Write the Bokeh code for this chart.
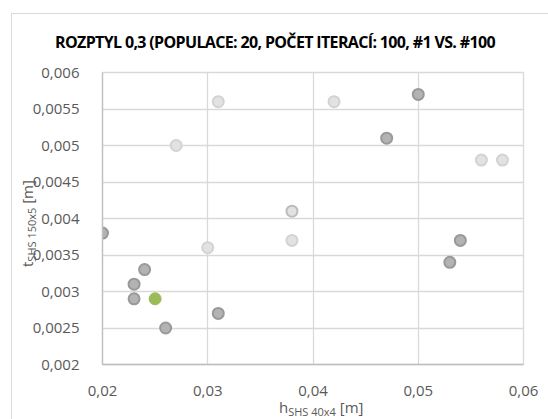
from bokeh.plotting import figure
from bokeh.models import FixedTicker, Range1d, Div
from bokeh.layouts import column
from bokeh.embed import file_html
from bokeh.resources import INLINE

# ---- data ----
title_text = "ROZPTYL 0,3 (POPULACE: 20, POČET ITERACÍ: 100, #1 VS. #100"
x_label = ("h", "SHS 40x4", " [m]")
y_label = ("t", "SHS 150x5", " [m]")

# population #1 (light grey)
first_h = [0.031, 0.042, 0.027, 0.056, 0.058, 0.038, 0.030]
first_t = [0.0056, 0.0056, 0.0050, 0.0048, 0.0048, 0.0037, 0.0036]

# overlapping point (light fill, darker border)
mid_h = [0.038]
mid_t = [0.0041]

# population #100 (dark grey)
last_h = [0.020, 0.024, 0.023, 0.023, 0.026, 0.031, 0.050, 0.047, 0.054, 0.053]
last_t = [0.0038, 0.0033, 0.0031, 0.0029, 0.0025, 0.0027, 0.0057, 0.0051, 0.0037, 0.0034]

# best solution (green)
best_h = [0.025]
best_t = [0.0029]

x_ticks = [0.02, 0.03, 0.04, 0.05, 0.06]
x_tick_labels = ["0,02", "0,03", "0,04", "0,05", "0,06"]
y_ticks = [0.002, 0.0025, 0.003, 0.0035, 0.004, 0.0045, 0.005, 0.0055, 0.006]
y_tick_labels = ["0,002", "0,0025", "0,003", "0,0035", "0,004", "0,0045", "0,005", "0,0055", "0,006"]

FONT = "Open Sans"
TICK_COLOR = "#595959"
GRID = "#d9d9d9"

p = figure(width=548, height=419, output_backend="svg", toolbar_location=None,
           x_range=Range1d(0.02, 0.06), y_range=Range1d(0.002, 0.006),
           min_border_left=102, min_border_right=25, min_border_top=72, min_border_bottom=55)
p.outline_line_color = GRID
p.outline_line_width = 1.3
p.background_fill_color = "white"
p.border_fill_color = None

for ax, ticks, labels in ((p.xaxis[0], x_ticks, x_tick_labels), (p.yaxis[0], y_ticks, y_tick_labels)):
    ax.ticker = FixedTicker(ticks=ticks)
    ax.major_label_overrides = {t: l for t, l in zip(ticks, labels)}
    ax.major_tick_line_color = None
    ax.minor_tick_line_color = None
    ax.axis_line_color = "#bfbfbf"
    ax.axis_line_width = 1.3
    ax.major_label_text_font = FONT
    ax.major_label_text_font_size = "15px"
    ax.major_label_text_color = TICK_COLOR
p.yaxis.major_label_standoff = 17
p.xaxis.major_label_standoff = 15

p.xgrid.ticker = FixedTicker(ticks=x_ticks)
p.ygrid.ticker = FixedTicker(ticks=y_ticks)
p.grid.grid_line_color = GRID
p.grid.grid_line_width = 1.3

# ---- points ----
p.scatter(first_h, first_t, size=11, fill_color="#e2e2e2", line_color="#d3d3d3", line_width=2)
p.scatter(mid_h, mid_t, size=11, fill_color="#e2e2e2", line_color="#bcbcbc", line_width=2)
p.scatter(last_h, last_t, size=11, fill_color="#b3b3b3", line_color="#999999", line_width=2)
p.scatter(best_h, best_t, size=12, fill_color="#9bbb59", line_color="#9bbb59", line_width=1)

# ---- texts as HTML overlay (title and axis titles with subscripts) ----
base = "position:absolute; white-space:nowrap; font-family:'Open Sans'; line-height:1;"
sub = "font-size:11px; line-height:0; vertical-align:-3px;"
html = (
    f'<div style="position:absolute; left:6px; top:8px; width:600px; height:500px; '
    f'border-left:1px solid #d9d9d9; border-top:1px solid #d9d9d9;"></div>'
    f'<div style="{base} left:0px; top:29px; width:540px; text-align:center; '
    f'font-size:16px; font-weight:bold; letter-spacing:-0.65px; color:#000;">{title_text}</div>'
    f'<div style="{base} left:274px; top:395px; font-size:15px; color:{TICK_COLOR};">'
    f'{x_label[0]}<span style="{sub}">{x_label[1]}</span>{x_label[2]}</div>'
    f'<div style="{base} left:15px; top:262px; font-size:15px; color:{TICK_COLOR}; '
    f'transform-origin:0 0; transform:rotate(-90deg);">'
    f'{y_label[0]}<span style="{sub}">{y_label[1]}</span>{y_label[2]}</div>'
)
overlay = Div(text=html, width=548, height=419,
              styles={"position": "absolute", "left": "0px", "top": "0px",
                      "z-index": "5", "pointer-events": "none"})

layout = column(p, overlay)
open("out.html", "w").write(file_html(layout, INLINE))
